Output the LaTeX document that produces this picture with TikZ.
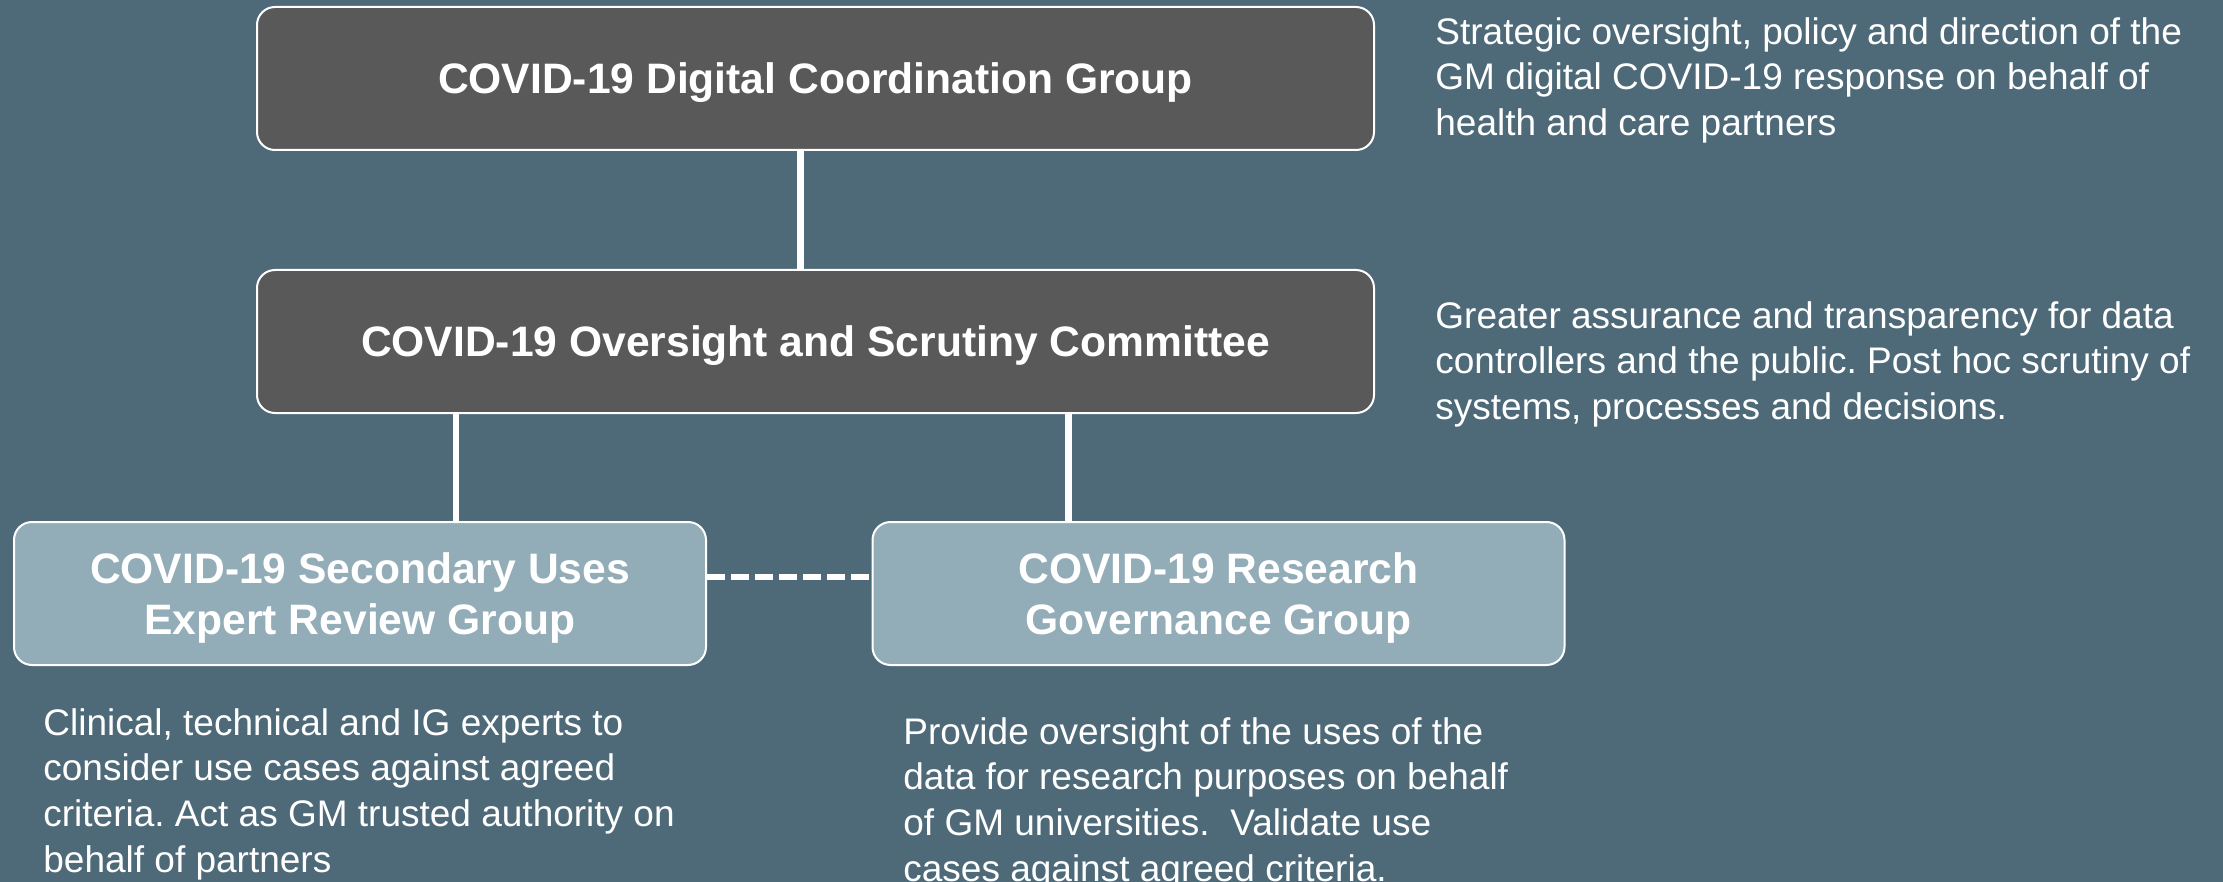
\documentclass[tikz,border=0pt]{standalone}
\usepackage{fontspec}
\setmainfont{Liberation Sans}
\usetikzlibrary{positioning, calc}
\definecolor{slatebg}{HTML}{4E6A79}
\definecolor{boardgray}{HTML}{595959}
\definecolor{groupblue}{HTML}{92ACB8}
\frenchspacing
\tikzset{
    board/.style = {draw=white, line width=1pt, rectangle, rounded corners=9pt, minimum width=558.5pt, minimum height=71.5pt, text centered, align=center, text depth=-3pt, fill=boardgray, text=white, font=\fontsize{21.3}{25.5}\selectfont\bfseries},
    group/.style = {board, fill=groupblue, minimum width=346pt},
    link/.style = {draw=white, line width=3.3pt},
    dlink/.style = {draw=white, line width=3pt, dash pattern=on 9pt off 3pt},
    remit/.style = {anchor=north west, inner sep=0pt, align=left, text=white, font=\fontsize{18.5}{22.8}\selectfont}
}

\begin{document}
\begin{tikzpicture}[x=0.5pt, y=-0.5pt]

    % Canvas
    \fill[slatebg] (0,0) rectangle (2223,882);
    \useasboundingbox (0,0) rectangle (2223,882);

    % Boards
    \node[board] (dcg) at (815.5, 78.5) {COVID-19 Digital Coordination Group};
    \node[board] (osc) at (815.5, 341.5) {COVID-19 Oversight and Scrutiny Committee};

    % Groups
    \node[group] (sec) at (360, 593.5) {COVID-19 Secondary Uses\\Expert Review Group};
    \node[group] (res) at (1218.5, 593.5) {COVID-19 Research\\Governance Group};

    % Links
    \draw[link] ([xshift=-7.5pt]dcg.south) -- ([xshift=-7.5pt]osc.north);
    \draw[link] ([xshift=48pt]sec.north) -- ([xshift=48pt]sec.north |- osc.south);
    \draw[link] ([xshift=-75pt]res.north) -- ([xshift=-75pt]res.north |- osc.south);
    \draw[dlink] ([yshift=8.2pt]sec.east) -- ([yshift=8.2pt]res.west);

    % Remits
    \node[remit] (dcgtxt) at (1435, 17) {Strategic oversight, policy and direction of the\\GM digital COVID-19 response on behalf of\\health and care partners};
    \node[remit] (osctxt) at (1435, 301) {Greater assurance and transparency for data\\controllers and the public. Post hoc scrutiny of\\systems, processes and decisions.};
    \node[remit] (sectxt) at (43, 708) {Clinical, technical and IG experts to\\consider use cases against agreed\\criteria. Act as GM trusted authority on\\behalf of partners};
    \node[remit] (restxt) at (903, 717) {Provide oversight of the uses of the\\data for research purposes on behalf\\of GM universities.\ \ Validate use\\cases against agreed criteria.};

\end{tikzpicture}
\end{document}
